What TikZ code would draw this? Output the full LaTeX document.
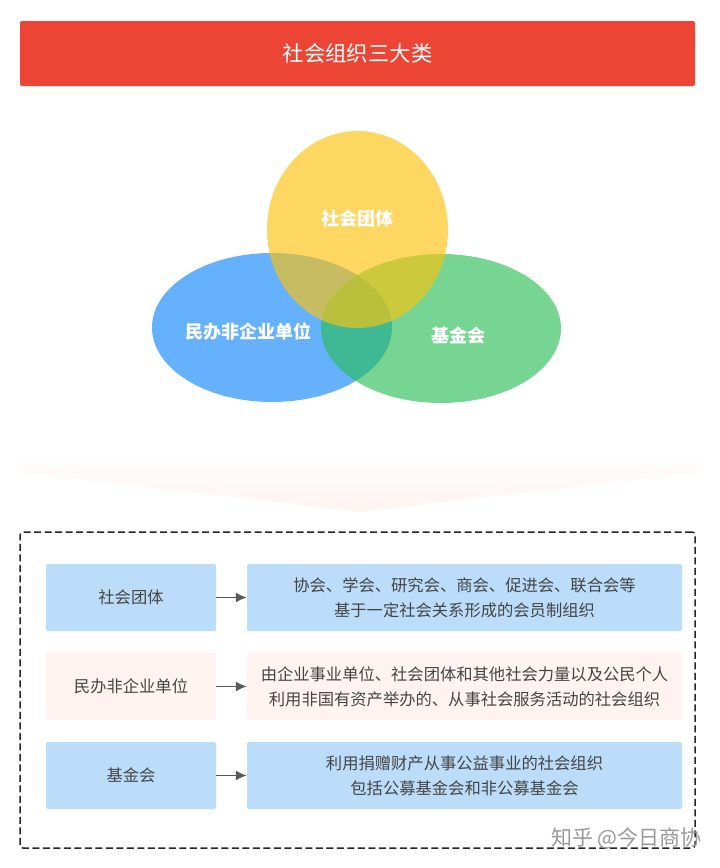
\documentclass[tikz,border=0pt]{standalone}
\usepackage{fontspec}
\usepackage{xcolor}
\usepackage{tikz}
\usetikzlibrary{positioning,shapes.geometric,arrows.meta}
\setmainfont{Noto Sans CJK SC}
\definecolor{titlered}{HTML}{EC4535}
\definecolor{circleyellow}{HTML}{FCC30E}
\definecolor{circleblue}{HTML}{66B1FD}
\definecolor{circlegreen}{HTML}{29BE56}
\definecolor{rowblue}{HTML}{BBDDF9}
\definecolor{rowpink}{HTML}{FFF3F1}
\definecolor{rowtext}{HTML}{444444}
\definecolor{arrowgrey}{HTML}{595959}

\begin{document}
\begin{tikzpicture}[x=1pt,y=-1pt,-{Latex[length=11pt,width=10pt]},node distance = 89pt and 333.5pt,on grid,
  venn/.style ={ellipse,draw=none,inner sep=0pt,text opacity=1},
  vennlabel/.style ={text=white,font=\fontsize{18}{22}\selectfont\bfseries},
  rowleft/.style ={rectangle,rounded corners=1.5pt,minimum width=170pt,minimum height=67pt,inner sep=0pt,text=rowtext,font=\fontsize{16.3}{25}\selectfont},
  rowright/.style ={rowleft,minimum width=435pt,align=center},
  rowarrow/.style ={draw=arrowgrey,line width=1.6pt}]
\useasboundingbox (0,0) rectangle (720,868);
\fill[white] (0,0) rectangle (720,868);
\node[rectangle,fill=titlered,rounded corners=2pt,minimum width=675pt,minimum height=65pt,inner sep=0pt,text=white,font=\fontsize{21.4}{26}\selectfont] (title) at (357.5,53.5) {社会组织三大类};
\node[venn,fill=circleblue,minimum width=240pt,minimum height=149pt] (blue) at (272,327.5) {};
\node[venn,fill=circlegreen,fill opacity=.63,minimum width=240pt,minimum height=149pt] (green) at (441,328.5) {};
\node[venn,fill=circleyellow,fill opacity=.65,minimum width=181pt,minimum height=197pt] (yellow) at (357.5,229.5) {};
\node[vennlabel] (yellowlabel) at (357.5,219) {社会团体};
\node[vennlabel] (bluelabel) at (248.5,332) {民办非企业单位};
\node[vennlabel] (greenlabel) at (458.5,335.5) {基金会};
\shade[top color=white,middle color=rowpink,bottom color=rowpink] (20,452) -- (700,452) -- (700,472) -- (360,512) -- (20,472) -- cycle;
\node[rectangle,draw=black!85,line width=1.5pt,dash pattern=on 7pt off 3.5pt,rounded corners=3pt,minimum width=675pt,minimum height=316pt,inner sep=0pt] (frame) at (357.5,690) {};
\node[rowleft,fill=rowblue] (tuanti) at (131,597.5) {社会团体};
\node[rowright,fill=rowblue] (tuantitext) [right = of tuanti] {协会、学会、研究会、商会、促进会、联合会等\\基于一定社会关系形成的会员制组织};
\node[rowleft,fill=rowpink] (minban) [below = of tuanti] {民办非企业单位};
\node[rowright,fill=rowpink] (minbantext) [right = of minban] {由企业事业单位、社会团体和其他社会力量以及公民个人\\利用非国有资产举办的、从事社会服务活动的社会组织};
\node[rowleft,fill=rowblue] (jijin) [below = of minban] {基金会};
\node[rowright,fill=rowblue] (jijintext) [right = of jijin] {利用捐赠财产从事公益事业的社会组织\\包括公募基金会和非公募基金会};
\path (tuanti) edge [rowarrow] (tuantitext);
\path (minban) edge [rowarrow] (minbantext);
\path (jijin) edge [rowarrow] (jijintext);
\node[text=black!40,font=\fontsize{21}{25}\selectfont] (mark) at (626.5,838) {知乎 @今日商协};
\end{tikzpicture}
\end{document}
